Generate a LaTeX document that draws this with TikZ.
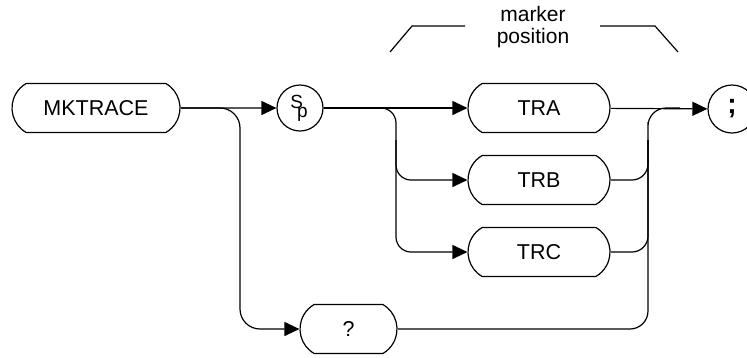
\documentclass[tikz,border=0pt]{standalone}
\usepackage{fontspec}
\setmainfont{Liberation Sans}
\usetikzlibrary{arrows.meta, shapes.misc}

\begin{document}
\begin{tikzpicture}[
  x=1pt, y=-1pt,
  line width=1.2pt,
  kw/.style={draw, rounded rectangle, rounded rectangle arc length=120,
    minimum height=49pt, inner sep=0pt, font=\fontsize{21.5}{21.5}\selectfont},
  sym/.style={draw, circle, minimum size=46pt, inner sep=0pt},
  lbl/.style={inner sep=0pt, align=center, font=\fontsize{21}{22}\selectfont},
  arr/.style={-{Triangle[length=15pt, width=14pt]}}
]
  \useasboundingbox (0,0) rectangle (747,357);

  \node[kw, minimum width=168pt] (mktrace) at (96,108) {MKTRACE};
  \node[sym, font=\fontsize{19}{19}\selectfont] (sp) at (300,108)
    {\kern-2pt\raisebox{4pt}{S}\kern-6pt\raisebox{-5pt}{p}};
  \node[kw, minimum width=142pt] (tra) at (539,108) {TRA};
  \node[kw, minimum width=142pt] (trb) at (539,180) {TRB};
  \node[kw, minimum width=142pt] (trc) at (539,252) {TRC};
  \node[kw, minimum width=97pt] (query) at (348.5,329) {?};
  \node[sym, minimum size=48pt, font=\fontsize{28}{28}\selectfont\bfseries] (semi) at (732,109) {;};

  % marker position bracket
  \node[lbl] (mpos) at (533,27) {marker\\position};
  \coordinate (bl1) at (390,52);
  \coordinate (bl2) at (412,26);
  \coordinate (bl3) at (465,26);
  \coordinate (br1) at (600,26);
  \coordinate (br2) at (655,26);
  \coordinate (br3) at (678,52);
  \draw (bl1) -- (bl2) -- (bl3);
  \draw (br1) -- (br2) -- (br3);

  % branch columns
  \coordinate (col1) at (240,108);
  \coordinate (col2) at (396,140);
  \coordinate (mrg) at (648,140);
  \coordinate (mrgtop) at (680,108);

  \draw[arr] (mktrace) -- (sp);
  \draw[arr, rounded corners=20pt] (mktrace.east) -| (col1 |- query.west) -- (query.west);

  \draw[arr] (sp) -- (tra);
  \draw[arr, rounded corners=15pt] (col2) |- (trb.west);
  \draw[arr, rounded corners=15pt] (sp.east) -| (col2 |- trc.west) -- (trc.west);

  \draw[arr] (tra) -- (semi);
  \draw[rounded corners=16pt] (trb.east) -| (mrg);
  \draw[rounded corners=16pt] (trc.east) -| (mrg);
  \draw[rounded corners=18pt] (query.east) -| (mrg) |- (mrgtop);
\end{tikzpicture}
\end{document}
